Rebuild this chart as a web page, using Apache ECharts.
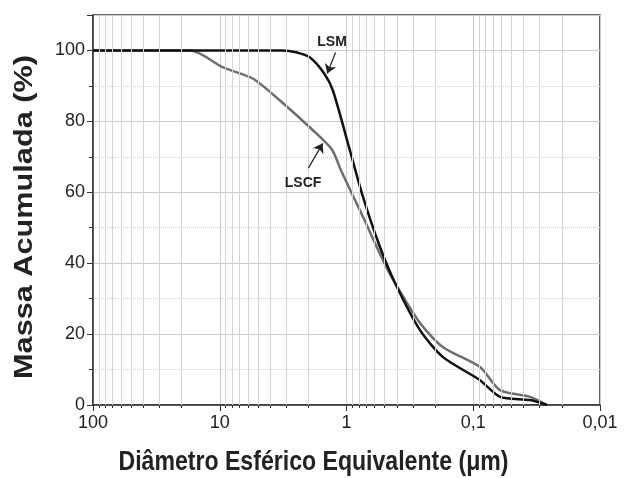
<!DOCTYPE html>
<html><head><meta charset="utf-8">
<script src="https://cdn.jsdelivr.net/npm/echarts@6/dist/echarts.min.js"></script>
<style>html,body{margin:0;padding:0;background:#fff}#c{width:627px;height:478px}</style>
</head><body><div id="c"></div>
<script>
const lsmData = [[100,100],[3.2,100],[2.5,99.5],[1.94,98],[1.5,93.5],[1.28,88.7],[0.94,71.8],[0.74,58.6],[0.55,45],[0.414,34.4],[0.263,21.1],[0.173,13.5],[0.0885,7.0],[0.0615,2.3],[0.0357,1.4],[0.0262,0]];
const lscfData = [[100,100],[17,100],[9.4,95.2],[5.5,92.1],[3.35,85.9],[1.84,77.5],[1.3,72],[1.1,66],[0.74,53],[0.515,40.8],[0.414,34.4],[0.263,23.1],[0.173,16.3],[0.0885,10.7],[0.0615,4.2],[0.0357,2.3],[0.0262,0]];
const minorGrid = [];
[10,1,0.1,0.01].forEach(d=>{for(let k=2;k<=9;k++) minorGrid.push(+(d*k).toPrecision(3));});
const xLabels = {100:'100',10:'10',1:'1',0.1:'0,1',0.01:'0,01'};
const lsmArrow = [[1.22,99.4],[1.42,93.5]];
const lscfArrow = [[2.00,66.8],[1.54,73.8]];
const lsmText = [1.30,102.3];
const lscfText = [2.20,62.5];
const xTitle = 'Diâmetro Esférico Equivalente (μm)';
const yTitle = 'Massa Acumulada (%)';

const chart = echarts.init(document.getElementById('c'));
const font = 'Liberation Sans, Arial, sans-serif';
chart.setOption({
  animation:false,
  grid:{left:93,right:27,top:15,bottom:73,show:true,borderColor:'#333',borderWidth:1.5,backgroundColor:'transparent'},
  graphic:[
    {type:'text',left:'center',x:312,y:463,scaleX:0.855,originX:0,
      style:{text:xTitle,font:'bold 27px '+font,fill:'#222',align:'center',verticalAlign:'middle'}},
    {type:'text',x:25,y:217,rotation:Math.PI/2,scaleX:1.18,
      style:{text:yTitle,font:'bold 26px '+font,fill:'#222',align:'center',verticalAlign:'middle'}}
  ],
  xAxis:{type:'log',logBase:10,min:0.01,max:100,inverse:true,
    axisLine:{lineStyle:{color:'#333',width:1.5}},
    axisTick:{show:true,length:6,lineStyle:{color:'#333'}},
    minorTick:{show:true,splitNumber:9,length:3,lineStyle:{color:'#333'}},
    axisLabel:{fontFamily:font,fontSize:18,color:'#222',margin:9,formatter:v=>xLabels[v]!==undefined?xLabels[v]:''},
    splitLine:{show:true,lineStyle:{color:'#ccc',width:1}}
  },
  yAxis:{type:'value',min:0,max:110,interval:20,
    axisLine:{show:true,lineStyle:{color:'#333',width:1.5}},
    axisTick:{show:true,length:6,lineStyle:{color:'#333'}},
    minorTick:{show:true,splitNumber:2,length:4,lineStyle:{color:'#333'}},
    axisLabel:{fontFamily:font,fontSize:18,color:'#222',margin:8,formatter:v=>v>100?'':String(v)},
    splitLine:{show:true,lineStyle:{color:'#ccc',width:1}},
    minorSplitLine:{show:true,lineStyle:{color:'#ccc',type:'dotted',width:1}}
  },
  series:[
    {name:'gridlines',type:'line',data:[],silent:true,
      markLine:{silent:true,symbol:'none',label:{show:false},lineStyle:{color:'#d4d4d4',width:1,type:'solid'},
        data:minorGrid.map(v=>({xAxis:v}))}},
    {name:'LSCF',type:'line',data:lscfData,showSymbol:false,smooth:0.25,
      lineStyle:{color:'#6e6e6e',width:2.5},z:3,
      markLine:{silent:true,symbol:['none','arrow'],symbolSize:9,label:{show:false},lineStyle:{color:'#222',width:1.2,type:'solid'},
        data:[[{coord:lscfArrow[0]},{coord:lscfArrow[1]}]]},
      markPoint:{symbol:'circle',symbolSize:0,data:[{coord:lscfText}],
        label:{show:true,formatter:'LSCF',fontFamily:font,fontWeight:'bold',fontSize:14,color:'#222'}}},
    {name:'LSM',type:'line',data:lsmData,showSymbol:false,smooth:0.25,
      lineStyle:{color:'#111',width:2.5},z:4,
      markLine:{silent:true,symbol:['none','arrow'],symbolSize:9,label:{show:false},lineStyle:{color:'#222',width:1.2,type:'solid'},
        data:[[{coord:lsmArrow[0]},{coord:lsmArrow[1]}]]},
      markPoint:{symbol:'circle',symbolSize:0,data:[{coord:lsmText}],
        label:{show:true,formatter:'LSM',fontFamily:font,fontWeight:'bold',fontSize:14,color:'#222'}}}
  ]
});
</script></body></html>
